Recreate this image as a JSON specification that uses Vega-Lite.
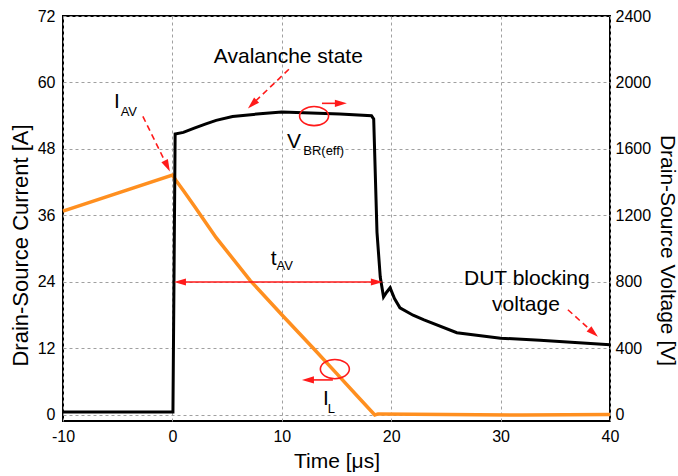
{
  "$schema": "https://vega.github.io/schema/vega-lite/v6.json",
  "width": 547,
  "height": 405,
  "autosize": {"type": "none"},
  "padding": {"left": 63, "top": 16, "right": 68, "bottom": 55},
  "background": "white",
  "config": {
    "font": "Liberation Sans",
    "view": {"stroke": "black", "strokeWidth": 2},
    "axis": {
      "labelFont": "Liberation Sans",
      "titleFont": "Liberation Sans",
      "labelColor": "#000",
      "titleColor": "#000",
      "titleFontWeight": "normal",
      "ticks": false,
      "domain": false,
      "gridDash": [3, 3],
      "gridColor": "#a0a0a0",
      "gridWidth": 1,
      "labelFontSize": 16,
      "titleFontSize": 22
    }
  },
  "datasets": {
    "cur": [
      {"t": -10, "i": 36.8}, {"t": 0, "i": 43.3}, {"t": 0.3, "i": 42.4}, {"t": 1, "i": 40.5},
      {"t": 2, "i": 37.7}, {"t": 4, "i": 32.0}, {"t": 7.1, "i": 24.3}, {"t": 10, "i": 18.1},
      {"t": 12.9, "i": 12.0}, {"t": 15, "i": 7.5}, {"t": 17, "i": 3.2}, {"t": 18.5, "i": 0.0},
      {"t": 18.8, "i": 0.2}, {"t": 25, "i": 0.1}, {"t": 32, "i": 0.0}, {"t": 40, "i": 0.1}
    ],
    "volt": [
      {"t": -10, "v": 18}, {"t": 0.05, "v": 18}, {"t": 0.25, "v": 1690}, {"t": 1, "v": 1700},
      {"t": 2, "v": 1725}, {"t": 3, "v": 1750}, {"t": 4, "v": 1772}, {"t": 5.5, "v": 1795},
      {"t": 8, "v": 1812}, {"t": 10, "v": 1822}, {"t": 12, "v": 1818}, {"t": 15.3, "v": 1810},
      {"t": 18.2, "v": 1800}, {"t": 18.4, "v": 1780}, {"t": 18.7, "v": 1100}, {"t": 19.0, "v": 830},
      {"t": 19.3, "v": 710}, {"t": 19.6, "v": 740}, {"t": 19.9, "v": 765}, {"t": 20.3, "v": 700},
      {"t": 20.8, "v": 645}, {"t": 22, "v": 600}, {"t": 23, "v": 572}, {"t": 26, "v": 495},
      {"t": 30, "v": 462}, {"t": 33.6, "v": 450}, {"t": 40, "v": 422}
    ],
    "lab": [
      {"t": 10.6, "i": 63.6, "txt": "Avalanche state"},
      {"t": -5.07, "i": 55.33, "txt": "I"},
      {"t": 11.11, "i": 48.23, "txt": "V"},
      {"t": 9.26, "i": 27.12, "txt": "t"},
      {"t": 14.03, "i": 1.81, "txt": "I"},
      {"t": 32.4, "i": 23.51, "txt": "DUT blocking"},
      {"t": 32.32, "i": 18.81, "txt": "voltage"}
    ],
    "sub": [
      {"t": -4.73, "i": 53.94, "txt": "AV"},
      {"t": 11.96, "i": 46.84, "txt": "BR(eff)"},
      {"t": 9.52, "i": 26.09, "txt": "AV"},
      {"t": 14.2, "i": 0.31, "txt": "L"}
    ],
    "dashed": [
      {"t": 10.65, "i": 62.39, "t2": 7.30, "i2": 56.08},
      {"t": -2.70, "i": 53.89, "t2": -0.47, "i2": 44.92},
      {"t": 36.15, "i": 18.99, "t2": 38.49, "i2": 14.83}
    ],
    "solid": [
      {"t": 13.67, "i": 56.24, "t2": 15.40, "i2": 56.24},
      {"t": 14.67, "i": 6.33, "t2": 12.39, "i2": 6.33},
      {"t": 0.69, "i": 24, "t2": 18.69, "i2": 24}
    ],
    "heads": [
      {"t": 7.30, "i": 56.08, "heading": 226},
      {"t": -0.47, "i": 44.92, "heading": 154},
      {"t": 38.49, "i": 14.83, "heading": 132},
      {"t": 15.40, "i": 56.24, "heading": 90},
      {"t": 12.39, "i": 6.33, "heading": 270},
      {"t": 0.69, "i": 24, "heading": 270},
      {"t": 18.69, "i": 24, "heading": 90}
    ],
    "rings": [
      {"t": 12.95, "i": 53.94},
      {"t": 14.85, "i": 8.28}
    ]
  },
  "encoding": {
    "x": {
      "field": "t",
      "type": "quantitative",
      "scale": {"domain": [-10, 40], "nice": false},
      "axis": {
        "title": "Time [μs]",
        "values": [-10, 0, 10, 20, 30, 40],
        "labelExpr": "datum.value < 0 ? '-' + abs(datum.value) : '' + datum.value",
        "grid": true,
        "labelFlush": false,
        "labelPadding": 7,
        "titlePadding": 6,
        "titleFontSize": 21
      }
    }
  },
  "layer": [
    {
      "data": {"name": "cur"},
      "mark": {"type": "line", "color": "#FF8F1F", "strokeWidth": 3.5},
      "encoding": {
        "y": {
          "field": "i",
          "type": "quantitative",
          "scale": {"domain": [-1.083, 72], "nice": false, "zero": false},
          "axis": {
            "title": "Drain-Source Current [A]",
            "orient": "left",
            "values": [0, 12, 24, 36, 48, 60, 72],
            "grid": true,
            "labelPadding": 8,
            "titleX": -43,
            "titleY": 229,
            "titleBaseline": "middle"
          }
        }
      }
    },
    {
      "data": {"name": "volt"},
      "mark": {"type": "line", "color": "#000000", "strokeWidth": 3},
      "encoding": {
        "y": {
          "field": "v",
          "type": "quantitative",
          "scale": {"domain": [-36.1, 2400], "nice": false, "zero": false},
          "axis": {
            "title": "Drain-Source Voltage [V]",
            "orient": "right",
            "values": [0, 400, 800, 1200, 1600, 2000, 2400],
            "labelExpr": "'' + datum.value",
            "grid": false,
            "labelPadding": 5,
            "titleAngle": 90,
            "titleFontSize": 21,
            "titleX": 56,
            "titleY": 234,
            "titleBaseline": "middle"
          }
        }
      }
    },
    {
      "encoding": {
        "y": {
          "field": "i",
          "type": "quantitative",
          "scale": {"domain": [-1.083, 72], "nice": false, "zero": false},
          "axis": null
        }
      },
      "layer": [
        {
          "data": {"name": "dashed"},
          "mark": {"type": "rule", "color": "#FF1A1A", "strokeWidth": 1.6, "strokeDash": [6, 4]},
          "encoding": {"x2": {"field": "t2"}, "y2": {"field": "i2"}}
        },
        {
          "data": {"name": "solid"},
          "mark": {"type": "rule", "color": "#FF1A1A", "strokeWidth": 1.6},
          "encoding": {"x2": {"field": "t2"}, "y2": {"field": "i2"}}
        },
        {
          "data": {"name": "heads"},
          "mark": {"type": "point", "shape": "M0,-1L0.6,1L-0.6,1Z", "filled": true, "color": "#FF1A1A", "size": 144, "opacity": 1, "strokeWidth": 0},
          "encoding": {"angle": {"field": "heading", "type": "quantitative", "scale": null}}
        },
        {
          "data": {"name": "rings"},
          "mark": {"type": "point", "shape": "M-1,0A1,0.66 0 1,1 1,0A1,0.66 0 1,1 -1,0Z", "filled": false, "color": "#FF1A1A", "size": 841, "opacity": 1, "strokeWidth": 1.6}
        },
        {
          "data": {"name": "lab"},
          "mark": {"type": "text", "fontSize": 21, "align": "center", "baseline": "alphabetic", "color": "#000"},
          "encoding": {"text": {"field": "txt"}}
        },
        {
          "data": {"name": "sub"},
          "mark": {"type": "text", "fontSize": 13, "align": "left", "baseline": "alphabetic", "color": "#000"},
          "encoding": {"text": {"field": "txt"}}
        }
      ]
    }
  ],
  "resolve": {"scale": {"y": "independent"}}
}
